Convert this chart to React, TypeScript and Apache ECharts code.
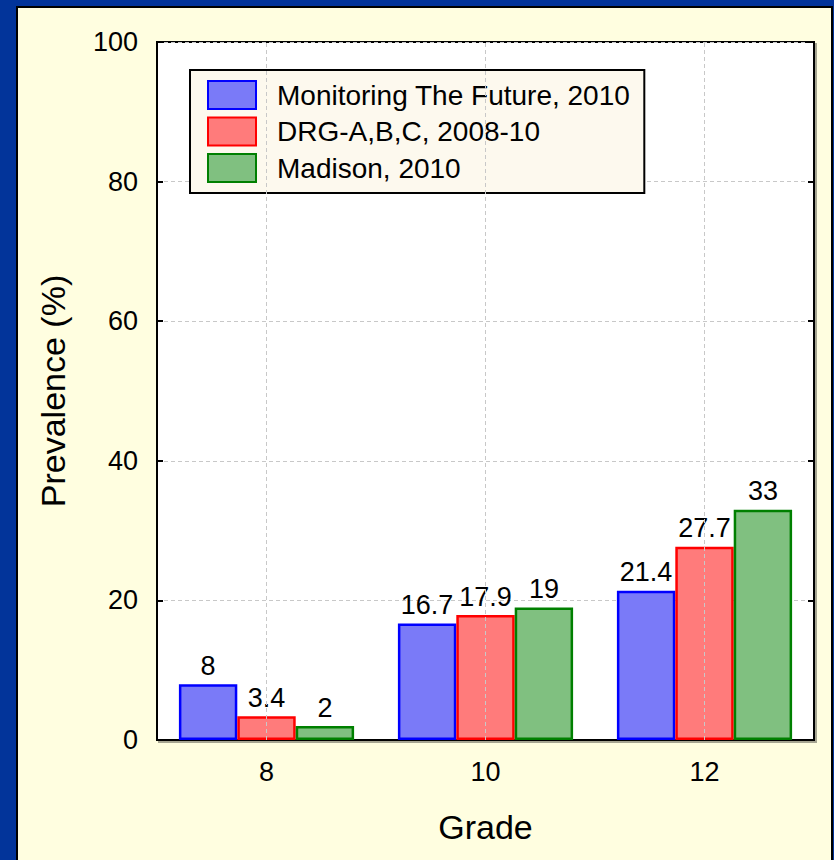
import React, { useEffect, useRef } from "react";
import * as echarts from "echarts";

const categories = ["8", "10", "12"];
const seriesNames = ["Monitoring The Future, 2010", "DRG-A,B,C, 2008-10", "Madison, 2010"];
const mtfValues = [8, 16.7, 21.4];
const drgValues = [3.4, 17.9, 27.7];
const madisonValues = [2, 19, 33];
const fillColors = ["#7A7AF8", "#FF7B7B", "#80C080"];
const borderColors = ["#0000FF", "#FF0000", "#008000"];

const FONT = "'Liberation Sans', Arial, sans-serif";

export default function App() {
  const ref = useRef<HTMLDivElement>(null);
  useEffect(() => {
    if (!ref.current) return;
    const chart = echarts.init(ref.current, undefined, { renderer: "svg" });
    const values = [mtfValues, drgValues, madisonValues];
    const barSeries = values.map((data, i) => ({
      name: seriesNames[i],
      type: "bar" as const,
      data,
      z: 3,
      barGap: "0%",
      barCategoryGap: "20%",
      itemStyle: { color: fillColors[i], borderColor: borderColors[i], borderWidth: 2.5 },
      label: {
        show: true,
        position: "top" as const,
        distance: 5,
        color: "#000",
        fontSize: 27,
        fontFamily: FONT,
      },
    }));
    chart.setOption({
      animation: false,
      backgroundColor: "#02349A",
      textStyle: { fontFamily: FONT },
      graphic: [
        {
          type: "rect",
          z: -10,
          shape: { x: 17, y: 7, width: 815, height: 870 },
          style: { fill: "#FFFEE0", stroke: "#000", lineWidth: 2 },
        },
      ],
      grid: {
        left: 157,
        top: 42,
        width: 657,
        height: 698,
        show: true,
        backgroundColor: "#FFFFFF",
        borderColor: "#000",
        borderWidth: 2,
        shadowColor: "rgba(0,0,0,0.35)",
        shadowOffsetX: 2,
        shadowOffsetY: 2,
        shadowBlur: 0,
      },
      legend: {
        data: seriesNames,
        orient: "vertical",
        left: 190,
        top: 70,
        padding: [10, 14, 10, 17],
        icon: "rect",
        itemWidth: 48,
        itemHeight: 28,
        itemGap: 6.5,
        backgroundColor: "#FDF9EE",
        borderColor: "#000",
        borderWidth: 2,
        textStyle: { fontSize: 28, lineHeight: 28, color: "#000", fontFamily: FONT, padding: [0, 0, 0, 16] },
      },
      xAxis: {
        type: "category",
        data: categories,
        name: "Grade",
        nameLocation: "middle",
        nameGap: 70,
        nameTextStyle: { fontSize: 34, color: "#000", fontFamily: FONT },
        axisLine: { show: true, lineStyle: { color: "#000", width: 2 } },
        axisTick: { show: true, inside: true, alignWithLabel: true, length: 4, lineStyle: { color: "#000", width: 2 } },
        axisLabel: { margin: 18, fontSize: 27, color: "#000", fontFamily: FONT },
        splitLine: { show: false },
      },
      yAxis: [
        {
          type: "value",
          min: 0,
          max: 100,
          interval: 20,
          name: "Prevalence (%)",
          nameLocation: "middle",
          nameGap: 87,
          nameTextStyle: { fontSize: 34, color: "#000", fontFamily: FONT },
          axisLine: { show: true, lineStyle: { color: "#000", width: 2 } },
          axisTick: { show: true, inside: true, length: 6, lineStyle: { color: "#000", width: 2 } },
          axisLabel: { margin: 19, fontSize: 27, color: "#000", fontFamily: FONT },
          splitLine: { show: true, lineStyle: { color: "#C8C8C8", type: [4, 3], width: 1 } },
        },
        {
          type: "value",
          min: 0,
          max: 100,
          interval: 20,
          position: "right",
          axisLine: { show: true, lineStyle: { color: "#000", width: 2 } },
          axisTick: { show: true, inside: true, length: 6, lineStyle: { color: "#000", width: 2 } },
          axisLabel: { show: false },
          splitLine: { show: false },
        },
      ],
      series: [
        {
          name: "grid-x",
          type: "line",
          data: [],
          z: 1,
          silent: true,
          markLine: {
            silent: true,
            symbol: "none",
            label: { show: false },
            lineStyle: { color: "#C8C8C8", type: [4, 3], width: 1 },
            data: categories.map((c) => ({ xAxis: c })),
          },
        },
        ...barSeries,
      ],
    });
    return () => chart.dispose();
  }, []);
  return (
    <div
      ref={ref}
      style={{ position: "fixed", left: 0, top: 0, width: 834, height: 860 }}
    />
  );
}
